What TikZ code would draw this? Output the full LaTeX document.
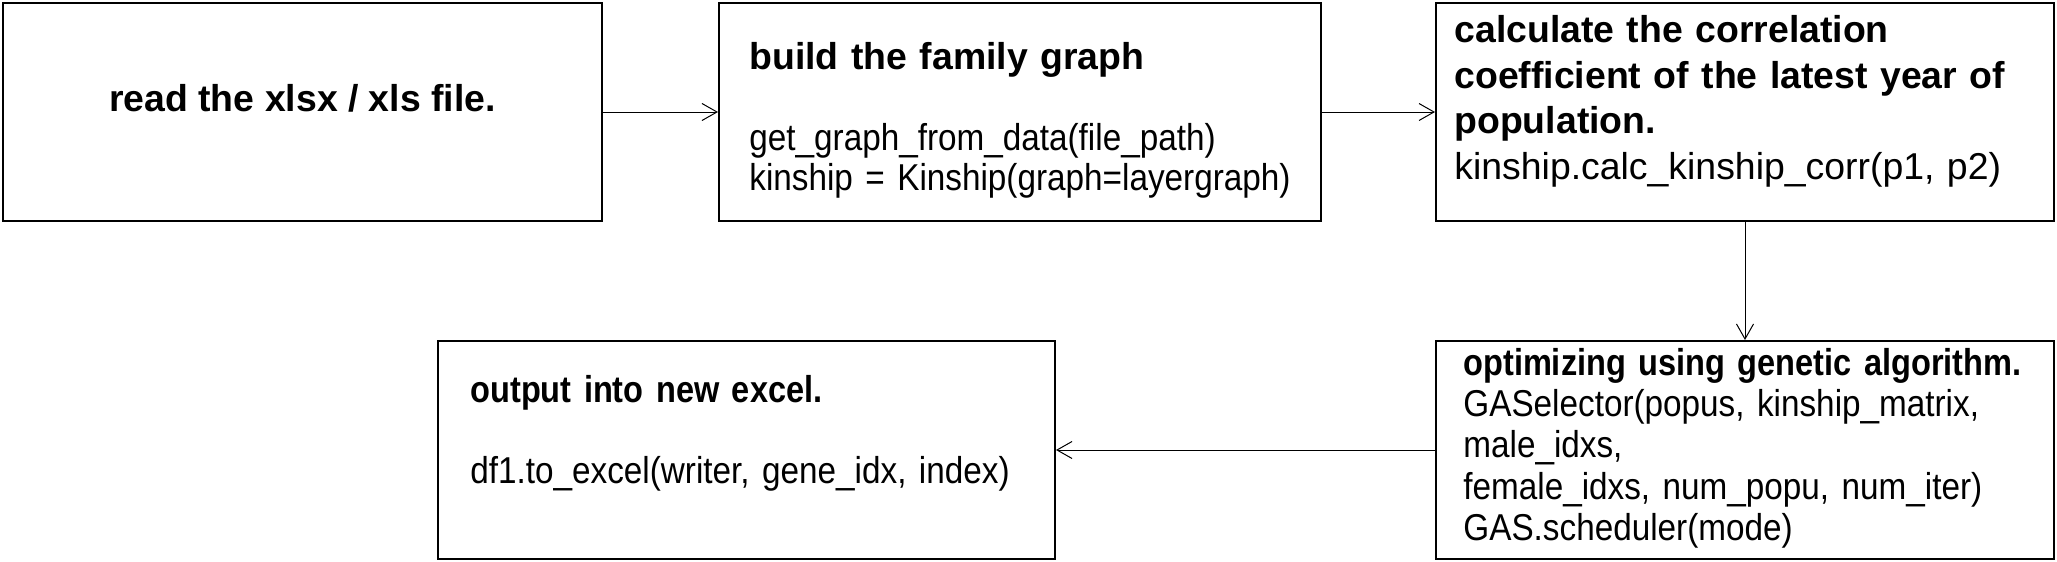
\documentclass[tikz,border=0pt]{standalone}
\usepackage{fontspec}
\setmainfont{Liberation Sans}
\newfontfamily\narrowfont[FakeStretch=0.89]{Liberation Sans}
\newfontfamily\narrowbold[FakeStretch=0.87]{Liberation Sans}
\usetikzlibrary{arrows.meta}

\begin{document}
\begin{tikzpicture}[box/.style = {draw, line width=1pt, minimum height=109pt, inner sep=0pt}, txt/.style = {inner sep=0pt, anchor=base west, align=left, text width=400pt, font=\fontsize{18.7pt}{20.25pt}\selectfont}, link/.style = {-{Straight Barb[length=7.5pt,width=8.5pt]}, line width=0.5pt}]
\fill[white] (0,0) rectangle (1028.5pt,-281pt);
\useasboundingbox (0,0) rectangle (1028.5pt,-281pt);
\node[box, minimum width=299.5pt] (1) at (151.25pt,-56pt) {};
\node[box, minimum width=301pt] (2) at (510pt,-56pt) {};
\node[box, minimum width=309pt] (3) at (872.5pt,-56pt) {};
\node[box, minimum width=308.5pt] (4) at (373.25pt,-225pt) {};
\node[box, minimum width=309pt] (5) at (872.5pt,-225pt) {};
\node[inner sep=0pt, anchor=base, font=\bfseries\fontsize{18.7pt}{20.25pt}\selectfont] (t1) at ([yshift=0.5pt]1.center) {read the xlsx / xls file.};
\node[txt] (t2) at ([shift={(15.5pt,-33.5pt)}]2.north west) {{\bfseries build the family graph}\\[20.25pt] {\narrowfont get\_graph\_from\_data(file\_path)\\ kinship = Kinship(graph=layergraph)}};
\node[txt, font=\fontsize{18.7pt}{22.75pt}\selectfont] (t3) at ([shift={(9.5pt,-20.25pt)}]3.north west) {{\bfseries calculate the correlation\\ coefficient of the latest year of\\ population.}\\ kinship.calc\_kinship\_corr(p1, p2)};
\node[txt, font=\narrowfont\fontsize{18.7pt}{20.25pt}\selectfont] (t4) at ([shift={(16.5pt,-31pt)}]4.north west) {{\narrowbold\bfseries output into new excel.}\\[20.25pt] df1.to\_excel(writer, gene\_idx, index)};
\node[txt, font=\narrowfont\fontsize{18.7pt}{20.7pt}\selectfont] (t5) at ([shift={(14pt,-17.5pt)}]5.north west) {{\narrowbold\bfseries optimizing using genetic algorithm.}\\ GASelector(popus, kinship\_matrix,\\ male\_idxs,\\ female\_idxs, num\_popu, num\_iter)\\ GAS.scheduler(mode)};
\draw[link] (1) -- (2);
\draw[link] (2) -- (3);
\draw[link] (3) -- (5);
\draw[link] (5) -- (4);
\end{tikzpicture}
\end{document}
